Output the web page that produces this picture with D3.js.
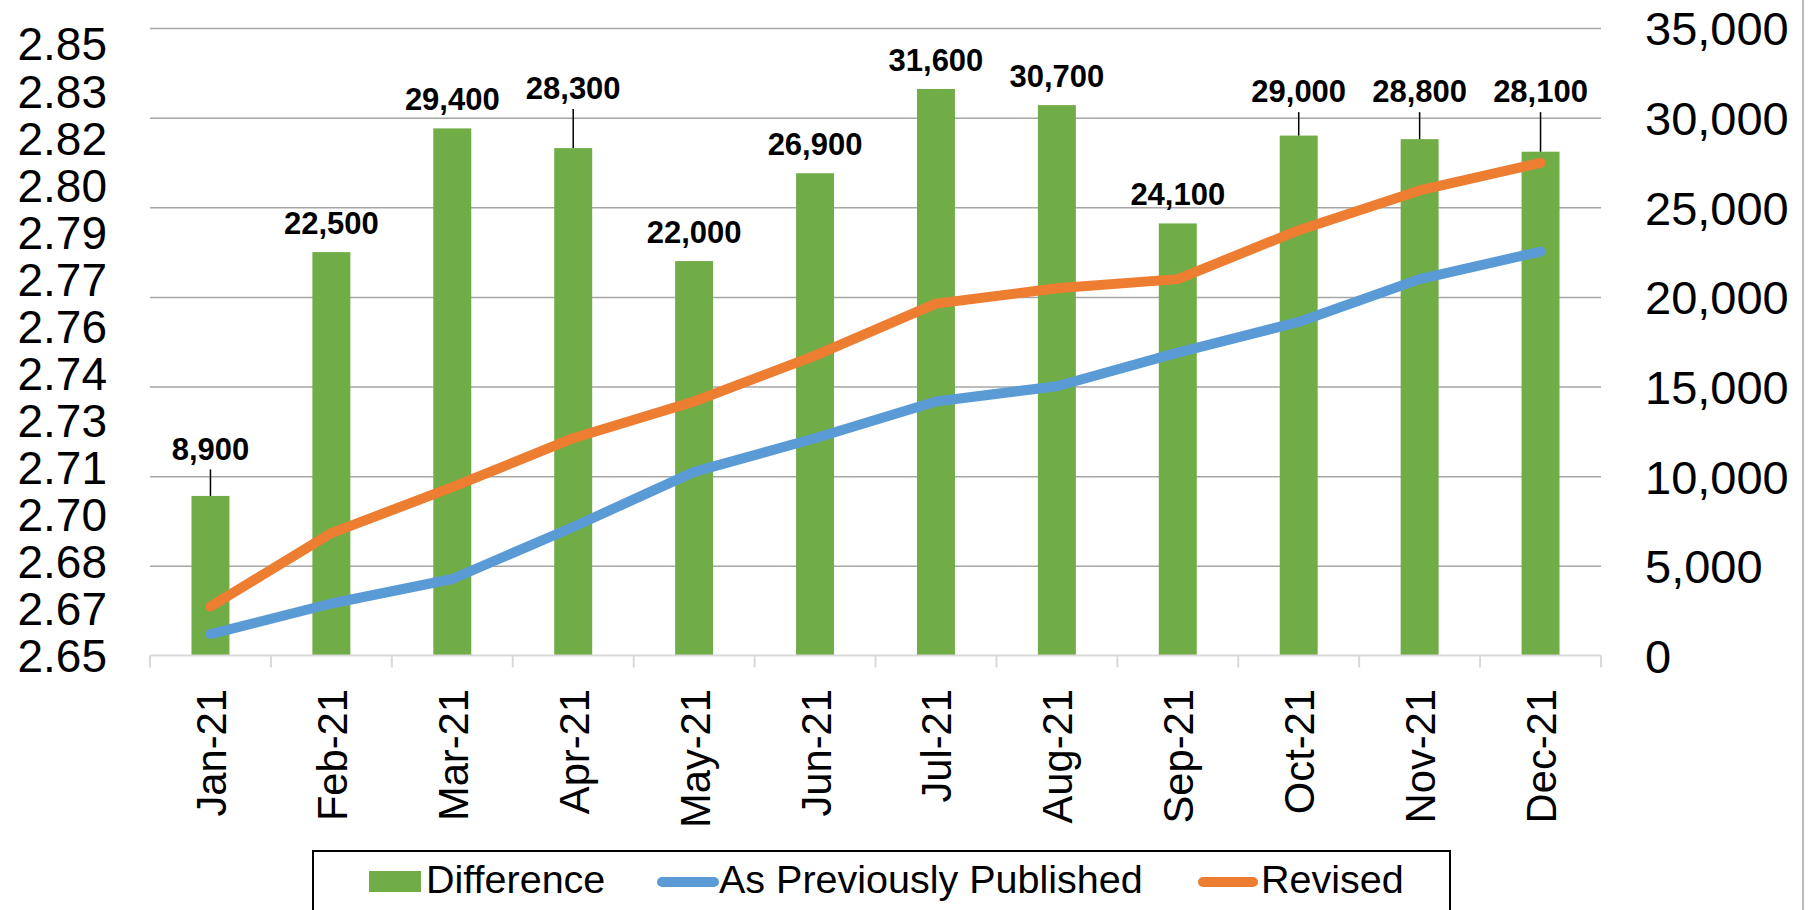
<!DOCTYPE html>
<html>
<head>
<meta charset="utf-8">
<script src="https://cdn.jsdelivr.net/npm/d3@7"></script>
<style>
  html, body { margin: 0; padding: 0; background: #ffffff; }
  svg { display: block; font-family: "Liberation Sans", Arial, sans-serif; }
</style>
</head>
<body>
<svg id="chart" width="1812" height="910"></svg>
<script>
// ---- data ----
const categories = ["Jan-21","Feb-21","Mar-21","Apr-21","May-21","Jun-21","Jul-21","Aug-21","Sep-21","Oct-21","Nov-21","Dec-21"];
const difference = [8900, 22500, 29400, 28300, 22000, 26900, 31600, 30700, 24100, 29000, 28800, 28100];
const previouslyPublished = [2.657, 2.667, 2.675, 2.692, 2.710, 2.721, 2.733, 2.738, 2.749, 2.759, 2.773, 2.782];
const revised = [2.666, 2.690, 2.705, 2.721, 2.733, 2.748, 2.765, 2.770, 2.773, 2.789, 2.802, 2.811];
const rightTicks = [0, 5000, 10000, 15000, 20000, 25000, 30000, 35000];
const leftTickLabels = ["2.65","2.67","2.68","2.70","2.71","2.73","2.74","2.76","2.77","2.79","2.80","2.82","2.83","2.85"];
const seriesNames = ["Difference", "As Previously Published", "Revised"];
// labels drawn with a leader line, positioned in right-axis units
const leaderLabelAt = {"Jan-21": 11550, "Apr-21": 31650, "Oct-21": 31480, "Nov-21": 31480, "Dec-21": 31480};

// ---- layout ----
const colors = { bar: "#70ad47", pub: "#5b9bd5", rev: "#ed7d31", grid: "#a6a6a6", axis: "#d9d9d9" };
const plot = { left: 150, right: 1601, top: 28, bottom: 655.5 };

const svg = d3.select("#chart");
svg.append("rect").attr("width", 1812).attr("height", 910).attr("fill", "#fff");

const x = d3.scaleBand().domain(categories).range([plot.left, plot.right]).paddingInner(0).paddingOuter(0);
const yR = d3.scaleLinear().domain([0, 35000]).range([plot.bottom, plot.top]);
const leftMin = 2.65, leftMax = 2.85;
const leftTickValues = leftTickLabels.map((s, i) => leftMin + i * (leftMax - leftMin) / (leftTickLabels.length - 1));
const yL = d3.scaleLinear().domain([leftMin, leftMax]).range([plot.bottom, 43.5]);
const cx = d => x(d) + x.bandwidth() / 2;

// gridlines
const grid = svg.append("g").attr("transform", `translate(${plot.left},0)`)
  .call(d3.axisLeft(yR).tickValues(rightTicks.filter(v => v > 0)).tickSize(-(plot.right - plot.left)).tickFormat(""));
grid.select(".domain").remove();
grid.selectAll("line").attr("stroke", colors.grid).attr("stroke-width", 1.5);

// bars
const barW = x.bandwidth() * 0.314;
svg.append("g").selectAll("rect").data(categories).join("rect")
  .attr("x", d => cx(d) - barW / 2)
  .attr("width", barW)
  .attr("y", (d, i) => yR(difference[i]))
  .attr("height", (d, i) => yR(0) - yR(difference[i]))
  .attr("fill", colors.bar);

// x axis line and boundary ticks
const xAxisG = svg.append("g");
xAxisG.append("line").attr("x1", plot.left).attr("x2", plot.right)
  .attr("y1", yR(0)).attr("y2", yR(0)).attr("stroke", colors.axis).attr("stroke-width", 2);
const boundaries = categories.map(d => x(d)).concat([x.range()[1]]);
xAxisG.selectAll("line.tick").data(boundaries).join("line").attr("class", "tick")
  .attr("x1", d => d).attr("x2", d => d)
  .attr("y1", yR(0)).attr("y2", yR(0) + 12)
  .attr("stroke", colors.axis).attr("stroke-width", 2);

// x labels (rotated)
svg.append("g").selectAll("text").data(categories).join("text")
  .attr("transform", d => `translate(${cx(d) + 15.5},689) rotate(-90) scale(0.97,1)`)
  .attr("text-anchor", "end")
  .attr("font-size", 43)
  .attr("fill", "#000")
  .text(d => d);

// lines
const line = d3.line().x((v, i) => cx(categories[i])).y(v => yL(v));
svg.append("path").datum(previouslyPublished).attr("d", line)
  .attr("fill", "none").attr("stroke", colors.pub).attr("stroke-width", 10)
  .attr("stroke-linecap", "round").attr("stroke-linejoin", "round");
svg.append("path").datum(revised).attr("d", line)
  .attr("fill", "none").attr("stroke", colors.rev).attr("stroke-width", 10)
  .attr("stroke-linecap", "round").attr("stroke-linejoin", "round");

// data labels
const labelFont = 31;
const capHalf = 0.716 * labelFont / 2;
const labels = svg.append("g");
categories.forEach((c, i) => {
  const barTop = yR(difference[i]);
  let center;
  if (leaderLabelAt[c] !== undefined) {
    center = yR(leaderLabelAt[c]);
    labels.append("line").attr("x1", cx(c)).attr("x2", cx(c))
      .attr("y1", center + 21).attr("y2", barTop)
      .attr("stroke", "#000").attr("stroke-width", 1.5);
  } else {
    center = barTop - 29.5;
  }
  labels.append("text")
    .attr("x", cx(c)).attr("y", center + capHalf)
    .attr("text-anchor", "middle").attr("font-size", labelFont).attr("font-weight", "bold")
    .attr("fill", "#000")
    .text(d3.format(",")(difference[i]));
});

// left axis
const leftAxis = svg.append("g").attr("transform", "translate(107,0)")
  .call(d3.axisLeft(yL).tickValues(leftTickValues).tickSize(0).tickPadding(0).tickFormat((v, i) => leftTickLabels[i]));
leftAxis.select(".domain").remove();
leftAxis.selectAll("text").attr("font-size", 46).attr("fill", "#000").attr("dy", "0.358em")
  .attr("font-family", "'Liberation Sans', Arial, sans-serif");

// right axis
const rightAxis = svg.append("g").attr("transform", "translate(1645,0)")
  .call(d3.axisRight(yR).tickValues(rightTicks).tickSize(0).tickPadding(0).tickFormat(d3.format(",")));
rightAxis.select(".domain").remove();
rightAxis.selectAll("text").attr("font-size", 47).attr("fill", "#000").attr("dy", "0.358em")
  .attr("font-family", "'Liberation Sans', Arial, sans-serif");

// chart border (right edge visible)
svg.append("line").attr("x1", 1803).attr("x2", 1803).attr("y1", 0).attr("y2", 910)
  .attr("stroke", "#a6a6a6").attr("stroke-width", 1.5);

// legend
const legend = svg.append("g");
legend.append("rect").attr("x", 313).attr("y", 851).attr("width", 1137).attr("height", 80)
  .attr("fill", "#fff").attr("stroke", "#000").attr("stroke-width", 2);
const legendFont = 39.5;
const legendBase = 893;
// Difference
legend.append("rect").attr("x", 369).attr("y", 871).attr("width", 52).attr("height", 21).attr("fill", colors.bar);
legend.append("text").attr("x", 426).attr("y", legendBase).attr("font-size", legendFont).text(seriesNames[0]);
// As Previously Published
legend.append("line").attr("x1", 662).attr("x2", 714).attr("y1", 882).attr("y2", 882)
  .attr("stroke", colors.pub).attr("stroke-width", 10).attr("stroke-linecap", "round");
legend.append("text").attr("x", 719).attr("y", legendBase).attr("font-size", legendFont).text(seriesNames[1]);
// Revised
legend.append("line").attr("x1", 1203).attr("x2", 1253).attr("y1", 882).attr("y2", 882)
  .attr("stroke", colors.rev).attr("stroke-width", 10).attr("stroke-linecap", "round");
legend.append("text").attr("x", 1261).attr("y", legendBase).attr("font-size", legendFont).text(seriesNames[2]);
</script>
</body>
</html>
